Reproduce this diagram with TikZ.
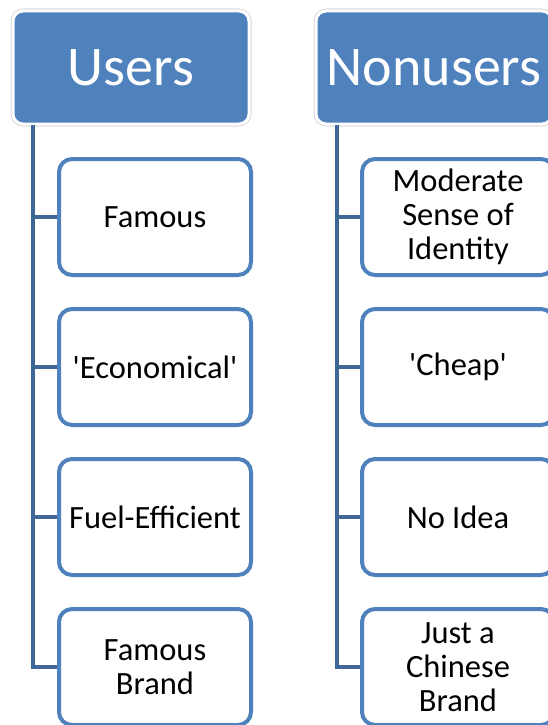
\documentclass[tikz,border=0pt]{standalone}
\usepackage{fontspec}
\setmainfont{Carlito}[Ligatures=TeXOff]
\usetikzlibrary{positioning}
\definecolor{hdrblue}{HTML}{4F81BD}
\definecolor{linkblue}{HTML}{3F6797}

\begin{document}
\begin{tikzpicture}[x=1pt, y=1pt,
   header/.style={fill=hdrblue, draw=white, line width=3pt, preaction={draw=black!15, line width=5pt}, rounded corners=10pt, minimum width=236pt, minimum height=113pt, text=white, font=\fontsize{56}{62}\selectfont},
   item/.style={draw=hdrblue, line width=4pt, fill=white, rounded corners=13pt, minimum width=192pt, minimum height=116pt, align=center, font=\fontsize{32.5}{34}\selectfont},
   link/.style={draw=linkblue, line width=4pt}]
   \useasboundingbox (0, 0) rectangle (548, -725);
   \clip (0, 0) rectangle (548, -725);

   \node[header] (U) at (131, -67.5) {Users};
   \node[header] (N) at (434, -67.5) {Nonusers};

   \node[item] (U1) at (155, -217) {Famous};
   \node[item] (U2) at (155, -367) {'Economical'};
   \node[item] (U3) at (155, -517) {Fuel-Efficient};
   \node[item] (U4) at (155, -667) {Famous\\Brand};

   \node[item] (N1) at (458, -217) {Moderate\\Sense of\\Identity};
   \node[item] (N2) at (458, -367) {'Cheap'};
   \node[item] (N3) at (458, -517) {No Idea};
   \node[item] (N4) at (458, -667) {Just a\\Chinese\\Brand};

   \coordinate (UR) at (33, -125);
   \coordinate (NR) at (337, -125);

   \draw[link] (UR) |- (U4.west);
   \draw[link] (UR |- U1) -- (U1.west);
   \draw[link] (UR |- U2) -- (U2.west);
   \draw[link] (UR |- U3) -- (U3.west);
   \draw[link] (NR) |- (N4.west);
   \draw[link] (NR |- N1) -- (N1.west);
   \draw[link] (NR |- N2) -- (N2.west);
   \draw[link] (NR |- N3) -- (N3.west);
\end{tikzpicture}
\end{document}
